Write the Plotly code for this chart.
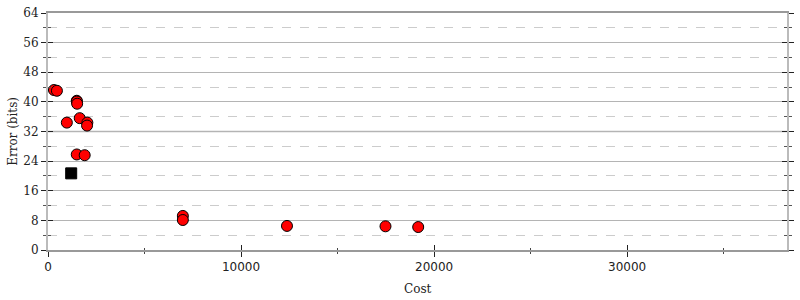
import plotly.graph_objects as go

# Data
cost = [308, 462, 1489, 1495, 1510, 976, 1643, 2039, 2023, 1489, 1900, 6985, 6985, 12379, 17482, 19176]
error = [43.2, 43.0, 40.3, 40.1, 39.5, 34.4, 35.6, 34.4, 33.6, 25.8, 25.6, 9.2, 8.1, 6.5, 6.4, 6.2]
init_cost = [1201]
init_error = [20.7]

x_ticks = [0, 10000, 20000, 30000]
y_ticks = [0, 8, 16, 24, 32, 40, 48, 56, 64]
x_max = 38280
y_max = 64

serif = "DejaVu Serif"
sans = "DejaVu Sans"

fig = go.Figure()
fig.add_trace(go.Scatter(
    x=cost, y=error, mode="markers",
    marker=dict(symbol="circle", size=11, color="#ff0000", line=dict(color="#000000", width=1)),
    showlegend=False, hoverinfo="skip"))
fig.add_trace(go.Scatter(
    x=init_cost, y=init_error, mode="markers",
    marker=dict(symbol="square", size=11, color="#000000", line=dict(color="#000000", width=1)),
    showlegend=False, hoverinfo="skip"))
# invisible trace to bind overlay axes
fig.add_trace(go.Scatter(x=[0], y=[0], xaxis="x2", yaxis="y2", mode="markers",
                         marker=dict(opacity=0), showlegend=False, hoverinfo="skip"))

fig.add_shape(type="line", xref="paper", yref="y", x0=0, x1=1, y0=32, y1=32,
              line=dict(color="#dcdcdc", width=2), layer="between")

fig.update_layout(
    width=800, height=300,
    margin=dict(l=48, r=6, t=8, b=50),
    paper_bgcolor="white", plot_bgcolor="white",
    xaxis=dict(range=[0, x_max], tickvals=x_ticks, ticktext=[str(v) for v in x_ticks],
               ticks="outside", ticklen=5, tickwidth=1, tickcolor="#222",
               tickfont=dict(family=sans, size=12, color="#222"),
               showline=True, linecolor="#999", linewidth=2, mirror=True,
               showgrid=False, zeroline=False,
               minor=dict(dtick=5000, tick0=0, ticks="outside", ticklen=2, tickcolor="#444", showgrid=False)),
    xaxis2=dict(range=[0, x_max], overlaying="x", tickvals=x_ticks, showticklabels=False,
                ticks="inside", ticklen=5, tickwidth=1, tickcolor="#222",
                showline=False, showgrid=False, zeroline=False,
                minor=dict(dtick=5000, tick0=0, ticks="inside", ticklen=2, tickcolor="#444", showgrid=False)),
    yaxis=dict(range=[0, y_max], tickvals=y_ticks, ticktext=[str(v) for v in y_ticks],
               ticks="outside", ticklen=5, tickwidth=1, tickcolor="#222",
               tickfont=dict(family=serif, size=12, color="#222"),
               showline=True, linecolor="#bbb", linewidth=2, mirror="ticks",
               showgrid=True, gridcolor="#b4b4b4", gridwidth=1, zeroline=False,
               minor=dict(dtick=4, tick0=0, ticks="outside", ticklen=3, tickcolor="#555",
                          showgrid=True, gridcolor="#cccccc", griddash="dash", gridwidth=1)),
    yaxis2=dict(range=[0, y_max], overlaying="y", side="left", tickvals=y_ticks, showticklabels=False,
                ticks="inside", ticklen=5, tickwidth=1, tickcolor="#222", mirror="ticks",
                showline=False, showgrid=False, zeroline=False,
                minor=dict(dtick=4, tick0=0, ticks="inside", ticklen=3, tickcolor="#555", showgrid=False)),
    annotations=[
        dict(text="Error (bits)", xref="paper", yref="paper", x=-48/746 + 12/746, y=0.5,
             textangle=-90, showarrow=False, xanchor="center", yanchor="middle",
             font=dict(family=serif, size=12, color="#222")),
        dict(text="Cost", xref="paper", yref="paper", x=0.5, y=-40/242,
             showarrow=False, xanchor="center", yanchor="middle",
             font=dict(family=serif, size=12, color="#222")),
    ],
)

fig.write_html("out.html")
